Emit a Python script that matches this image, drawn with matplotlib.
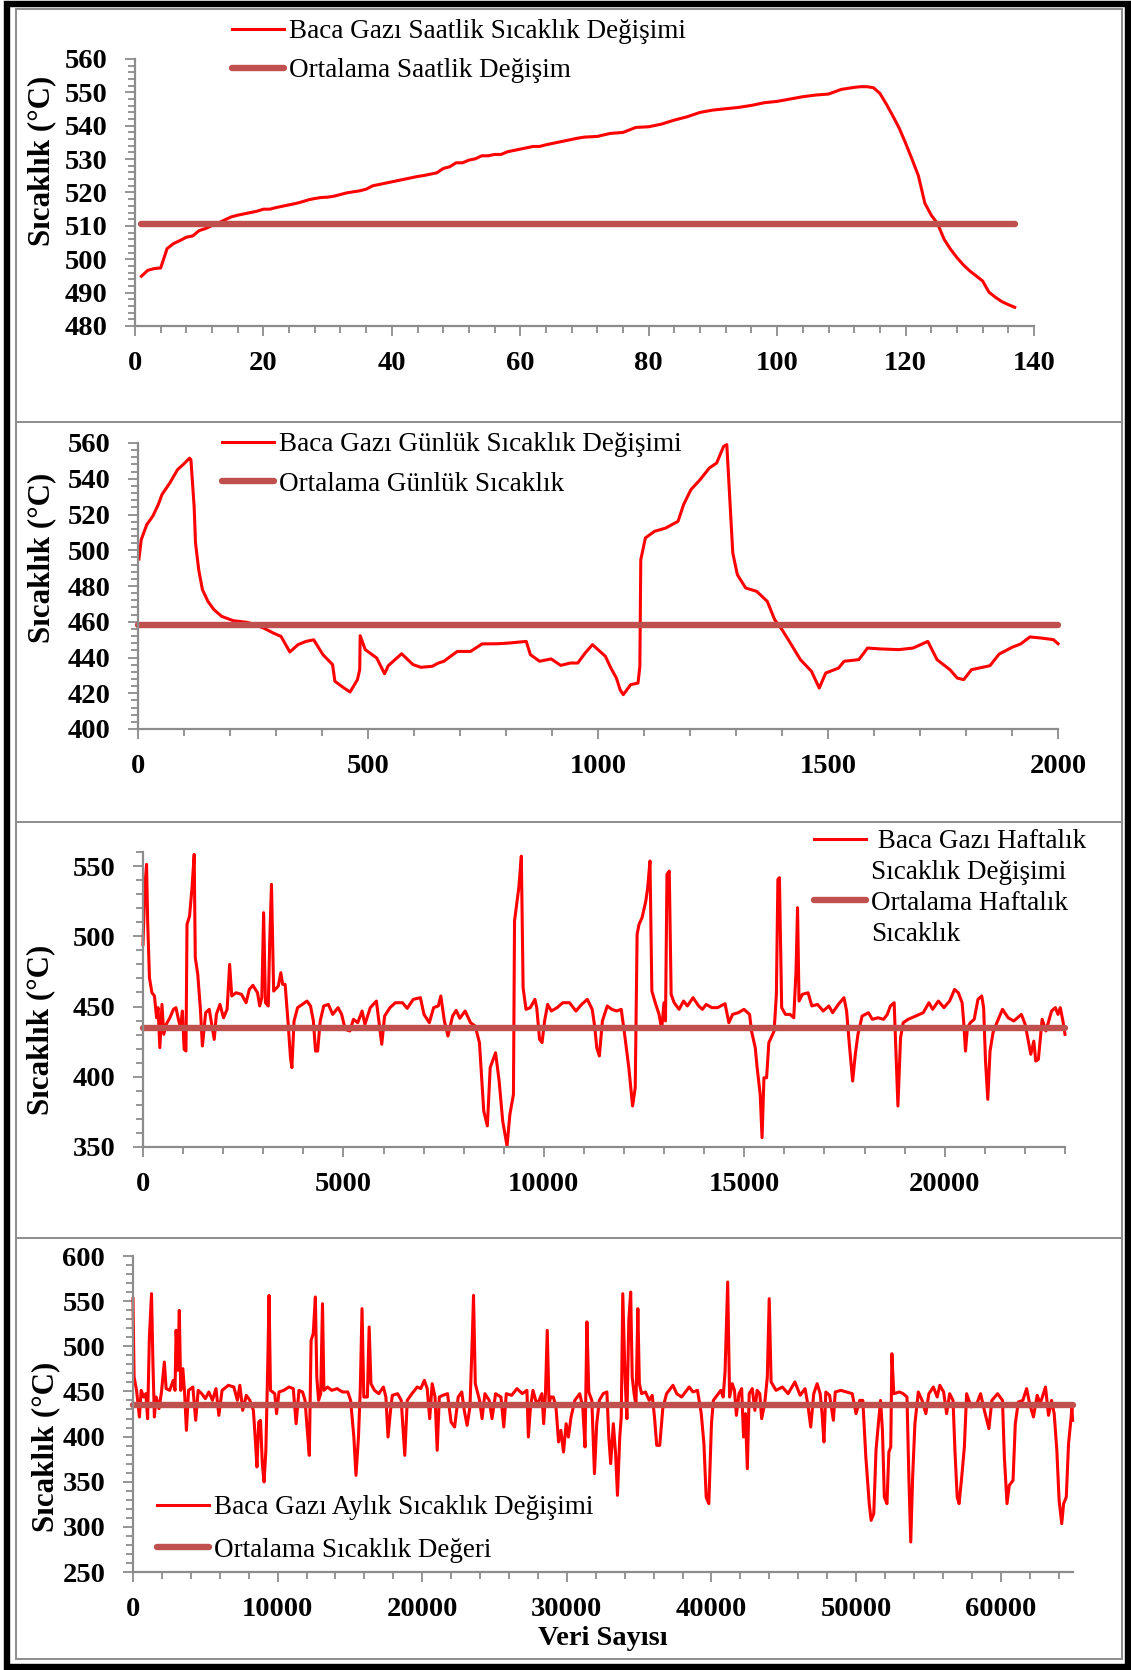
import matplotlib.pyplot as plt
from matplotlib.lines import Line2D
from matplotlib.patches import Rectangle
from matplotlib.ticker import MultipleLocator

plt.rcParams['font.family'] = ['Liberation Serif', 'DejaVu Serif']

# ---- data ----
# saatlik (hourly)
x1 = [1, 2, 3, 4, 5, 6, 7, 8, 9, 10, 11, 12, 13, 14, 15, 16, 17, 18, 19, 20,
      21, 22, 23, 24, 25, 26, 27, 28, 29, 30, 31, 32, 33, 34, 35, 36, 37, 38, 39, 40,
      41, 42, 43, 44, 45, 46, 47, 48, 49, 50, 51, 52, 53, 54, 55, 56, 57, 58, 59, 60,
      61, 62, 63, 64, 65, 66, 67, 68, 69, 70, 72, 74, 76, 78, 80, 82, 84, 86, 88, 90,
      92, 94, 96, 98, 100, 102, 104, 106, 108, 110, 112, 113, 114, 115, 116, 117, 118,
      119, 120, 121, 122, 123, 124, 125, 126, 127, 128, 129, 130, 131, 132, 133, 134,
      135, 136, 137]
y1 = [494.9, 496.7, 497.2, 497.4, 503.2, 504.7, 505.6, 506.6, 507.0, 508.6, 509.2, 510.1,
      510.9, 511.8, 512.7, 513.2, 513.6, 514.0, 514.4, 515.0, 515.0, 515.5, 515.9, 516.3,
      516.7, 517.2, 517.8, 518.2, 518.5, 518.6, 518.9, 519.4, 519.9, 520.2, 520.5, 521.0,
      522.0, 522.4, 522.8, 523.2, 523.6, 524.0, 524.4, 524.8, 525.1, 525.5, 525.9, 527.2,
      527.7, 528.9, 528.9, 529.7, 530.1, 531.0, 531.0, 531.4, 531.4, 532.2, 532.6, 533.0,
      533.4, 533.8, 533.8, 534.3, 534.7, 535.1, 535.5, 535.9, 536.3, 536.6, 536.8, 537.7,
      538.0, 539.5, 539.7, 540.5, 541.7, 542.7, 544.0, 544.7, 545.1, 545.5, 546.1, 546.9,
      547.3, 548.0, 548.7, 549.2, 549.5, 550.9, 551.5, 551.7, 551.7, 551.4, 549.7, 546.5,
      543.0, 539.3, 534.8, 530.0, 525.0, 516.8, 513.2, 510.6, 506.0, 503.0, 500.5, 498.3,
      496.5, 495.0, 493.5, 490.1, 488.6, 487.3, 486.4, 485.6]
mean1_x = [1, 137]
mean1 = 510.5

# gunluk (daily)
x2 = [2, 7, 19, 32, 44, 52, 69, 86, 98, 112, 115, 122, 125, 132, 140, 152, 165, 182, 207,
      236, 248, 273, 294, 311, 330, 348, 365, 382, 402, 423, 428, 448, 461, 477, 482, 483,
      494, 519, 536, 544, 573, 598, 615, 640, 653, 665, 694, 723, 748, 782, 807, 844, 853,
      873, 898, 919, 940, 956, 972, 988, 1000, 1016, 1028, 1040, 1048, 1055, 1071, 1087,
      1091, 1093, 1103, 1123, 1147, 1174, 1186, 1202, 1222, 1242, 1258, 1273, 1280, 1285,
      1293, 1303, 1321, 1345, 1368, 1384, 1400, 1416, 1440, 1464, 1481, 1495, 1523, 1535,
      1567, 1586, 1614, 1654, 1685, 1717, 1737, 1765, 1781, 1795, 1812, 1852, 1872, 1900,
      1919, 1939, 1963, 1990, 2000]
y2 = [495.1, 505.9, 514.3, 519.0, 525.5, 531.1, 537.6, 545.1, 547.9, 551.5, 550.7, 524.6,
      504.1, 489.1, 478.0, 471.4, 466.8, 463.0, 460.6, 459.7, 458.9, 456.5, 453.7, 451.8,
      443.1, 447.2, 449.0, 449.9, 441.6, 436.0, 426.7, 422.9, 420.7, 427.6, 433.2, 452.2,
      444.4, 439.7, 430.9, 435.4, 442.1, 436.0, 434.5, 435.1, 436.9, 437.9, 443.4, 443.4,
      447.6, 447.7, 448.1, 449.0, 441.6, 437.9, 439.2, 435.6, 436.9, 436.9, 442.5, 447.2,
      444.4, 440.7, 434.1, 428.5, 422.0, 419.2, 424.8, 425.7, 435.0, 494.7, 506.9, 510.6,
      512.4, 516.2, 525.5, 533.9, 539.5, 546.0, 548.8, 558.1, 559.1, 535.8, 498.5, 486.3,
      478.9, 477.0, 471.4, 461.2, 455.6, 449.0, 438.8, 432.3, 422.9, 431.3, 434.1, 437.9,
      438.8, 445.3, 444.8, 444.4, 445.3, 449.0, 438.8, 433.2, 428.5, 427.6, 433.2, 435.4,
      441.9, 445.7, 447.6, 451.5, 450.9, 450.0, 447.7]
mean2_x = [0, 2000]
mean2 = 458.4

# haftalik (weekly)
x3 = [0, 45, 89, 116, 161, 223, 286, 339, 375, 420, 473, 518, 580, 670, 759, 821, 893, 938,
      982, 1027, 1072, 1098, 1161, 1223, 1277, 1304, 1366, 1429, 1482, 1563, 1652, 1714,
      1777, 1830, 1920, 2009, 2098, 2161, 2214, 2322, 2456, 2572, 2652, 2741, 2857, 2911,
      2964, 3009, 3054, 3125, 3161, 3205, 3259, 3375, 3438, 3483, 3545, 3616, 3679, 3714,
      3768, 3857, 3973, 4089, 4179, 4250, 4304, 4357, 4420, 4509, 4625, 4732, 4866, 4955,
      5045, 5161, 5250, 5357, 5465, 5536, 5670, 5822, 5893, 5956, 6027, 6161, 6295, 6474,
      6590, 6742, 6920, 7009, 7143, 7250, 7366, 7429, 7518, 7607, 7723, 7813, 7902, 8036,
      8170, 8286, 8393, 8500, 8590, 8661, 8795, 8884, 8973, 9081, 9152, 9241, 9268, 9375,
      9438, 9482, 9554, 9661, 9777, 9822, 9893, 9955, 10018,
      10094, 10188, 10330, 10471, 10640, 10800, 10942, 11083, 11206, 11272, 11319, 11384,
      11460, 11582, 11695, 11818, 11930, 12025, 12119, 12213, 12279, 12326, 12374, 12449,
      12543, 12590, 12647, 12694, 12779, 12873, 12939, 12996, 13034, 13071, 13128, 13175,
      13250, 13373, 13485, 13580, 13721, 13861, 13955, 14049, 14190, 14331, 14520, 14614,
      14708, 14849, 14991, 15132, 15179, 15273, 15320, 15396, 15443, 15490, 15556, 15612,
      15669, 15744, 15800, 15838, 15876, 15932, 16026, 16139, 16234, 16290, 16328, 16365,
      16450, 16591, 16685, 16827, 16968, 17109, 17203, 17345, 17486, 17552, 17627, 17703,
      17769, 17835, 17938, 18098, 18192, 18333, 18474, 18568, 18644, 18738, 18785, 18832,
      18898, 18964, 19087, 19275, 19463, 19605, 19699, 19840, 19981, 20122, 20245, 20339,
      20433, 20471, 20518, 20565, 20640, 20735, 20829, 20923, 20970, 21017, 21074, 21130,
      21205, 21300, 21441, 21582, 21723, 21912, 22006, 22100, 22147, 22222, 22270, 22336,
      22430, 22524, 22665, 22759, 22825, 22882, 22948, 23000]
y3 = [494.2, 534.6, 551.2, 510.9, 470.5, 459.8, 457.5, 442.0, 449.2, 420.7, 451.5, 430.2,
      437.3, 442.0, 448.0, 449.2, 439.7, 434.9, 446.8, 419.5, 418.3, 508.5, 514.4, 534.6,
      558.3, 484.8, 472.9, 449.2, 421.9, 445.6, 448.0, 437.3, 426.6, 444.4, 451.5, 442.0,
      448.0, 480.0, 457.5, 459.8, 458.7, 452.7, 462.2, 465.1, 459.8, 450.4, 456.3, 516.8,
      452.7, 450.4, 496.6, 537.0, 461.0, 464.6, 474.1, 465.8, 465.8, 439.7, 413.6, 406.5,
      439.7, 449.2, 451.5, 453.9, 450.4, 439.7, 418.3, 418.3, 439.7, 450.4, 451.5, 444.4,
      449.2, 444.4, 433.7, 432.6, 440.9, 438.5, 446.8, 437.3, 449.2, 453.9, 437.3, 423.1,
      443.2, 449.2, 452.7, 452.7, 448.7, 455.1, 456.3, 444.4, 438.5, 449.2, 450.4, 457.5,
      439.7, 429.0, 443.2, 447.3, 441.6, 446.8, 438.5, 436.1, 424.3, 375.6, 365.0, 406.5,
      417.1, 397.0, 368.5, 350.7, 373.2, 387.5, 510.9, 534.6, 557.1, 463.4, 448.0, 449.2,
      455.1, 449.2, 426.6, 424.3, 439.7,
      451.5, 446.8, 449.2, 452.7, 452.7, 446.8, 451.5, 455.1, 448.0, 434.9, 420.7, 414.8,
      439.7, 450.4, 448.0, 446.8, 448.0, 427.8, 406.5, 379.2, 392.2, 501.4, 508.5, 513.2,
      525.1, 534.6, 553.6, 461.0, 452.7, 444.4, 433.7, 452.7, 439.7, 544.1, 546.4, 458.7,
      452.7, 448.0, 453.9, 450.4, 456.3, 450.4, 448.0, 451.5, 449.2, 449.2, 452.0, 438.5,
      444.4, 445.6, 448.0, 444.4, 432.6, 420.7, 406.5, 387.5, 356.6, 399.3, 399.3, 424.3,
      427.8, 432.6, 458.7, 540.5, 541.7, 449.2, 444.4, 444.4, 442.0, 475.3, 520.3, 453.9,
      458.7, 459.8, 450.4, 451.5, 446.8, 450.4, 445.6, 451.5, 456.3, 446.8, 420.7, 397.0,
      416.0, 430.2, 443.2, 445.6, 440.9, 442.0, 440.9, 444.4, 450.4, 452.7, 416.0, 379.2,
      427.8, 438.5, 440.9, 443.2, 445.6, 452.7, 448.0, 453.9, 449.2, 453.9, 462.2, 459.8,
      452.7, 439.7, 418.3, 434.9, 438.5, 440.9, 455.1, 457.5, 449.2, 411.2, 383.9, 418.3,
      431.4, 438.5, 448.0, 442.0, 439.7, 444.4, 437.3, 423.1, 416.0, 425.4, 411.2, 412.4,
      440.9, 432.6, 446.8, 449.2, 444.4, 449.2, 439.7, 430.2]
mean3_x = [0, 23000]
mean3 = 434.8

# aylik (monthly)
x4 = [0, 74, 246, 443, 566, 739, 887, 1010, 1133, 1281, 1379, 1478, 1601, 1798, 1970, 2167,
      2291, 2537, 2783, 2906, 2980, 3104, 3202, 3301, 3448, 3571, 3694, 3842, 4138, 4335,
      4507, 4754, 5000, 5246, 5493, 5739, 5936, 6158, 6601, 6970, 7217, 7389, 7586, 7833,
      8079, 8325, 8448, 8571, 8694, 8818, 8941, 9064, 9187, 9310, 9409, 9507, 9803, 9926,
      10098, 10418, 10788, 11083, 11280, 11477, 11724, 11896, 12069, 12192, 12315, 12463,
      12611, 12709, 12832, 12980, 13103, 13202, 13448, 13744, 14113, 14483, 14852, 15049,
      15271, 15419, 15591, 15714, 15837, 15960, 16206, 16330, 16453, 16699, 16995, 17315,
      17487, 17635, 17808, 17931, 18300, 18546, 18793, 18965, 19285, 19655, 19901, 20147,
      20344, 20517, 20689, 20886, 21034, 21182, 21428, 21748, 21994, 22240, 22487, 22733,
      22906, 23103, 23300, 23472, 23546, 23669, 23965, 24137, 24334, 24630, 24827, 25073,
      25443, 25640, 25812, 26182, 26551, 26920, 27240, 27339, 27487, 27659, 27905, 28078,
      28275, 28398, 28521, 28644, 28767, 28890, 29063,
      29247, 29429, 29586, 29769, 29951, 30108, 30291, 30552, 30891, 31100, 31256, 31387,
      31517, 31726, 31909, 32066, 32249, 32510, 32770, 32901, 33031, 33214, 33371, 33501,
      33658, 33762, 33867, 34023, 34153, 34284, 34414, 34519, 34649, 34780, 34910, 35015,
      35171, 35433, 35694, 35902, 36060, 36216, 36425, 36633, 36894, 37338, 37599, 37938,
      38199, 38460, 38721, 39034, 39295, 39478, 39635, 39817, 40000, 40131, 40392, 40652,
      40809, 40940, 41122, 41253, 41436, 41592, 41723, 41905, 42088, 42219, 42349, 42480,
      42610, 42819, 43002, 43158, 43341, 43471, 43680, 43863, 43993, 44124, 44463, 44907,
      45298, 45768, 46134, 46473, 46656, 46864, 47073, 47308, 47517, 47647, 47778, 47908,
      48169, 48430, 48561, 48952, 49344, 49735, 49996, 50257, 50466, 50675, 50910, 51040,
      51223, 51379, 51510, 51692, 51823, 51954, 52137, 52267, 52398, 52476, 52607, 52998,
      53259, 53520, 53650, 53781, 53911, 54068, 54303, 54564, 54825, 55034, 55347, 55608,
      55791, 56052, 56261, 56470, 56704, 56835, 56992, 57122, 57305, 57488, 57644, 57958,
      58349, 58610, 58871, 59184, 59392, 59784, 60123, 60254, 60436, 60593, 60854, 61010,
      61219, 61532, 61793, 62002, 62263, 62524, 62733, 63098, 63307, 63516, 63699, 63882,
      64039, 64221, 64352, 64535, 64691, 64874, 64920, 64975]
y4 = [552.7, 466.0, 451.2, 421.7, 451.2, 443.8, 447.5, 419.8, 510.3, 558.3, 480.8, 421.7,
      443.8, 430.9, 449.4, 482.6, 453.1, 451.2, 462.3, 451.2, 517.7, 473.4, 539.8, 451.2,
      475.2, 447.5, 406.9, 451.2, 454.9, 418.0, 451.2, 447.5, 442.0, 449.4, 440.1, 453.1,
      423.5, 451.2, 456.8, 454.9, 440.1, 456.8, 429.0, 445.7, 440.1, 429.0, 399.5, 366.3,
      416.1, 418.0, 370.0, 349.7, 384.8, 473.4, 556.4, 451.2, 447.5, 425.4, 449.4, 451.2,
      454.9, 453.1, 414.3, 451.2, 449.4, 440.1, 403.2, 379.2, 506.6, 514.0, 554.6, 466.0,
      440.1, 447.5, 547.2, 451.2, 454.9, 451.2, 453.1, 449.4, 449.4, 440.1, 399.5, 357.0,
      399.5, 451.2, 541.7, 443.8, 443.8, 521.4, 458.6, 451.2, 447.5, 454.9, 443.8, 399.5,
      429.0, 445.7, 447.5, 440.1, 379.2, 440.1, 447.5, 454.9, 453.1, 462.3, 453.1, 419.8,
      458.6, 443.8, 384.8, 443.8, 445.7, 447.5, 416.1, 410.6, 443.8, 449.4, 429.0, 412.4,
      432.8, 514.0, 556.4, 458.6, 440.1, 419.8, 447.5, 440.1, 419.8, 447.5, 443.8, 410.6,
      447.5, 445.7, 453.1, 447.5, 451.2, 399.5, 432.8, 451.2, 436.4, 440.1, 447.5, 414.3,
      447.5, 517.7, 436.4, 443.8, 443.8,
      432.8, 394.0, 406.9, 382.9, 414.3, 399.5, 421.7, 440.1, 447.5, 432.8, 388.5, 527.0,
      449.4, 440.1, 358.9, 414.3, 440.1, 447.5, 449.4, 399.5, 370.0, 414.3, 381.0, 334.9,
      399.5, 421.7, 558.3, 466.0, 419.8, 528.8, 560.1, 466.0, 447.5, 434.6, 541.7, 458.6,
      447.5, 449.4, 440.1, 445.7, 421.7, 390.3, 390.3, 430.9, 447.5, 456.8, 447.5, 443.8,
      449.4, 454.9, 449.4, 451.2, 425.4, 392.1, 333.0, 325.7, 414.3, 440.1, 445.7, 451.2,
      443.8, 471.5, 571.2, 443.8, 458.6, 451.2, 423.5, 447.5, 453.1, 399.5, 425.4, 364.4,
      447.5, 453.1, 429.0, 451.2, 447.5, 419.8, 436.4, 466.0, 552.7, 460.5, 451.2, 454.9,
      447.5, 460.5, 445.7, 453.1, 436.4, 410.6, 447.5, 458.6, 447.5, 425.4, 394.0, 449.4,
      445.7, 418.0, 449.4, 451.2, 449.4, 447.5, 425.4, 440.1, 440.1, 377.4, 325.7, 307.2,
      314.6, 384.8, 408.8, 440.1, 406.9, 333.0, 325.7, 382.9, 388.5, 491.8, 447.5, 449.4,
      447.5, 443.8, 355.2, 283.2, 355.2, 414.3, 449.4, 440.1, 425.4, 447.5, 454.9, 443.8,
      456.8, 449.4, 425.4, 447.5, 440.1, 384.8, 333.0, 325.7, 355.2, 388.5, 447.5, 432.8,
      436.4, 447.5, 429.0, 408.8, 440.1, 447.5, 440.1, 377.4, 325.7, 346.0, 351.5, 414.3,
      438.3, 440.1, 453.1, 436.4, 421.7, 445.7, 436.4, 454.9, 423.5, 440.1, 425.4, 384.8,
      329.4, 303.5, 325.7, 333.0, 392.1, 421.7, 432.8, 418.0]
mean4_x = [0, 65000]
mean4 = 435.3

labels1 = ['Baca Gazı Saatlik Sıcaklık Değişimi', 'Ortalama Saatlik Değişim']
labels2 = ['Baca Gazı Günlük Sıcaklık Değişimi', 'Ortalama Günlük Sıcaklık']
labels3 = [' Baca Gazı Haftalık', 'Sıcaklık Değişimi', 'Ortalama Haftalık', 'Sıcaklık']
labels4 = ['Baca Gazı Aylık Sıcaklık Değişimi', 'Ortalama Sıcaklık Değeri']
ylab = 'Sıcaklık (°C)'
xlab = 'Veri Sayısı'

# ---- figure ----
W, H = 1131, 1670
fig = plt.figure(figsize=(W / 100, H / 100), dpi=100)
RED = '#FF0000'
MEAN = '#C0504D'
GRAY = '#8C8C8C'


def fx(p):
    return p / W


def fy(p):
    return 1 - p / H


def make_ax(l, t, r, b):
    return fig.add_axes([fx(l), fy(b), fx(r) - fx(l), fy(t) - fy(b)])


def style(ax, xlim, ylim, xt, yt, xminor, yminor):
    ax.set_xlim(*xlim)
    ax.set_ylim(*ylim)
    for s in ['top', 'right']:
        ax.spines[s].set_visible(False)
    for s in ['left', 'bottom']:
        ax.spines[s].set_color(GRAY)
        ax.spines[s].set_linewidth(1.6)
    ax.set_xticks(xt)
    ax.set_xticklabels([str(v) for v in xt], fontsize=20.5, fontweight='bold')
    ax.set_yticks(yt)
    ax.set_yticklabels([str(v) for v in yt], fontsize=20.5, fontweight='bold')
    ax.xaxis.set_minor_locator(MultipleLocator(xminor))
    ax.yaxis.set_minor_locator(MultipleLocator(yminor))
    ax.tick_params(which='both', direction='out', color=GRAY, width=1.3)
    ax.tick_params(which='major', length=7)
    ax.tick_params(which='minor', length=5)
    ax.tick_params(axis='y', which='major', pad=13)
    ax.tick_params(axis='x', which='major', pad=11)
    ax.patch.set_alpha(0)


def plot_pair(ax, x, y, mx, m):
    l1, = ax.plot(x, y, color=RED, lw=2.2, solid_joinstyle='round', clip_on=False)
    l2, = ax.plot(mx, [m, m], color=MEAN, lw=4.6, solid_capstyle='round', clip_on=False)
    return l1, l2


def legend(ax, handles, labels, left, top, spacing):
    ax.legend(handles, labels, loc='upper left', bbox_to_anchor=(fx(left), fy(top)),
              bbox_transform=fig.transFigure, frameon=False, fontsize=19.5,
              handlelength=1.92, handletextpad=0.18, labelspacing=spacing,
              borderpad=0, borderaxespad=0)


def ylabel(ax, xc, yc):
    ax.set_ylabel(ylab, fontsize=22.3, fontweight='bold', va='center')
    ax.yaxis.set_label_coords(xc, yc)


# panel 1
ax1 = make_ax(135, 59, 1034, 326)
h1 = plot_pair(ax1, x1, y1, mean1_x, mean1)
style(ax1, (0, 140), (480, 560), list(range(0, 141, 20)), list(range(480, 561, 10)), 4, 2)
legend(ax1, h1, labels1, 232, 19, 0.52)
ylabel(ax1, -0.1034, 0.62)

# panel 2
ax2 = make_ax(138, 443, 1058, 729)
h2 = plot_pair(ax2, x2, y2, mean2_x, mean2)
style(ax2, (0, 2000), (400, 560), list(range(0, 2001, 500)), list(range(400, 561, 20)), 100, 4)
legend(ax2, h2, labels2, 222, 432, 0.55)
ylabel(ax2, -0.1043, 0.598)

# panel 3
ax3 = make_ax(143, 852, 1065, 1147)
h3 = plot_pair(ax3, x3, y3, mean3_x, mean3)
style(ax3, (0, 23000), (350, 560), list(range(0, 20001, 5000)), list(range(350, 551, 50)), 1000, 10)
blank = Line2D([], [], color='none')
legend(ax3, [h3[0], blank, h3[1], blank], labels3, 814, 829, 0.22)
ylabel(ax3, -0.1106, 0.397)

# panel 4
ax4 = make_ax(133, 1256, 1073, 1572)
h4 = plot_pair(ax4, x4, y4, mean4_x, mean4)
style(ax4, (0, 65000), (250, 600), list(range(0, 60001, 10000)), list(range(250, 601, 50)), 2000, 10)
legend(ax4, h4, labels4, 157, 1495, 0.66)
ylabel(ax4, -0.0926, 0.396)
ax4.set_xlabel(xlab, fontsize=20.5, fontweight='bold', va='center')
ax4.xaxis.set_label_coords(0.5, -0.212)

# frames around the panels
fig.add_artist(Rectangle((fx(16), fy(1659)), fx(1122) - fx(16), fy(9) - fy(1659),
                         transform=fig.transFigure, fill=False, ec=GRAY, lw=1.4))
for yy in [422, 822, 1238]:
    fig.add_artist(Line2D([fx(16), fx(1122)], [fy(yy), fy(yy)], transform=fig.transFigure,
                          color=GRAY, lw=1.4))
fig.add_artist(Rectangle((fx(7), fy(1666.5)), fx(1128) - fx(7), fy(3.5) - fy(1666.5),
                         transform=fig.transFigure, fill=False, ec='black', lw=4.6))

fig.savefig('out.png', dpi=100)
